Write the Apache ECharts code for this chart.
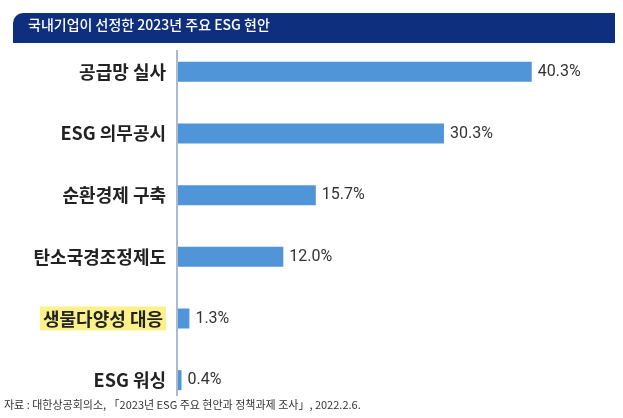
<html>
<head>
<meta charset="utf-8">
<script src="https://cdn.jsdelivr.net/npm/echarts@6/dist/echarts.min.js"></script>
</head>
<body style="margin:0">
<div id="main" style="width:623px;height:418px"></div>
<script>
    var categories = ['공급망 실사', 'ESG 의무공시', '순환경제 구축', '탄소국경조정제도', '생물다양성 대응', 'ESG 워싱']
    var values = [40.3, 30.3, 15.7, 12.0, 1.3, 0.4]
    var highlight = '생물다양성 대응'

    var myChart = echarts.init(document.getElementById('main'))
    var font = '"Noto Sans CJK KR", sans-serif'

    myChart.setOption({
        animation: false,
        backgroundColor: '#fff',
        grid: { left: 178, right: 50, top: 41, bottom: 7 },
        xAxis: { type: 'value', min: 0, max: 45, show: false },
        yAxis: {
            type: 'category',
            inverse: true,
            data: categories,
            axisLine: { show: false },
            axisTick: { show: false },
            axisLabel: {
                margin: 12,
                fontFamily: font,
                fontSize: 18,
                fontWeight: 'bold',
                color: '#222',
                formatter: function (v) {
                    return v === highlight ? '{h|' + v + '}' : v
                },
                rich: {
                    h: { backgroundColor: '#fbf18a', fontSize: 18, fontWeight: 'bold', color: '#222', fontFamily: font, padding: [4, 3, 2, 3] }
                }
            }
        },
        series: [{
            type: 'bar',
            data: values,
            barWidth: 20,
            itemStyle: { color: '#4f95d8' },
            label: {
                show: true,
                position: 'right',
                distance: 6,
                fontFamily: 'Roboto, sans-serif',
                fontSize: 16,
                color: '#333',
                formatter: function (p) { return p.value.toFixed(1) + '%' }
            }
        }],
        graphic: [
            {
                type: 'rect',
                shape: { x: 13, y: 13, width: 602, height: 30, r: [10, 0, 0, 0] },
                style: { fill: '#0e2f7d' }
            },
            {
                type: 'text', left: 28, top: 18,
                style: { text: '국내기업이 선정한 2023년 주요 ESG 현안', fill: '#fff', font: '500 14px "Noto Sans CJK KR", sans-serif' }
            },
            {
                type: 'line',
                shape: { x1: 177, y1: 50, x2: 177, y2: 396 },
                style: { stroke: '#8fa3bd', lineWidth: 1.5 }
            },
            {
                type: 'text', left: 4, top: 399,
                style: { text: '자료 : 대한상공회의소, 「2023년 ESG 주요 현안과 정책과제 조사」, 2022.2.6.', fill: '#333', font: '11px "Noto Sans CJK KR", sans-serif' }
            }
        ]
    })
</script>
</body>
</html>
